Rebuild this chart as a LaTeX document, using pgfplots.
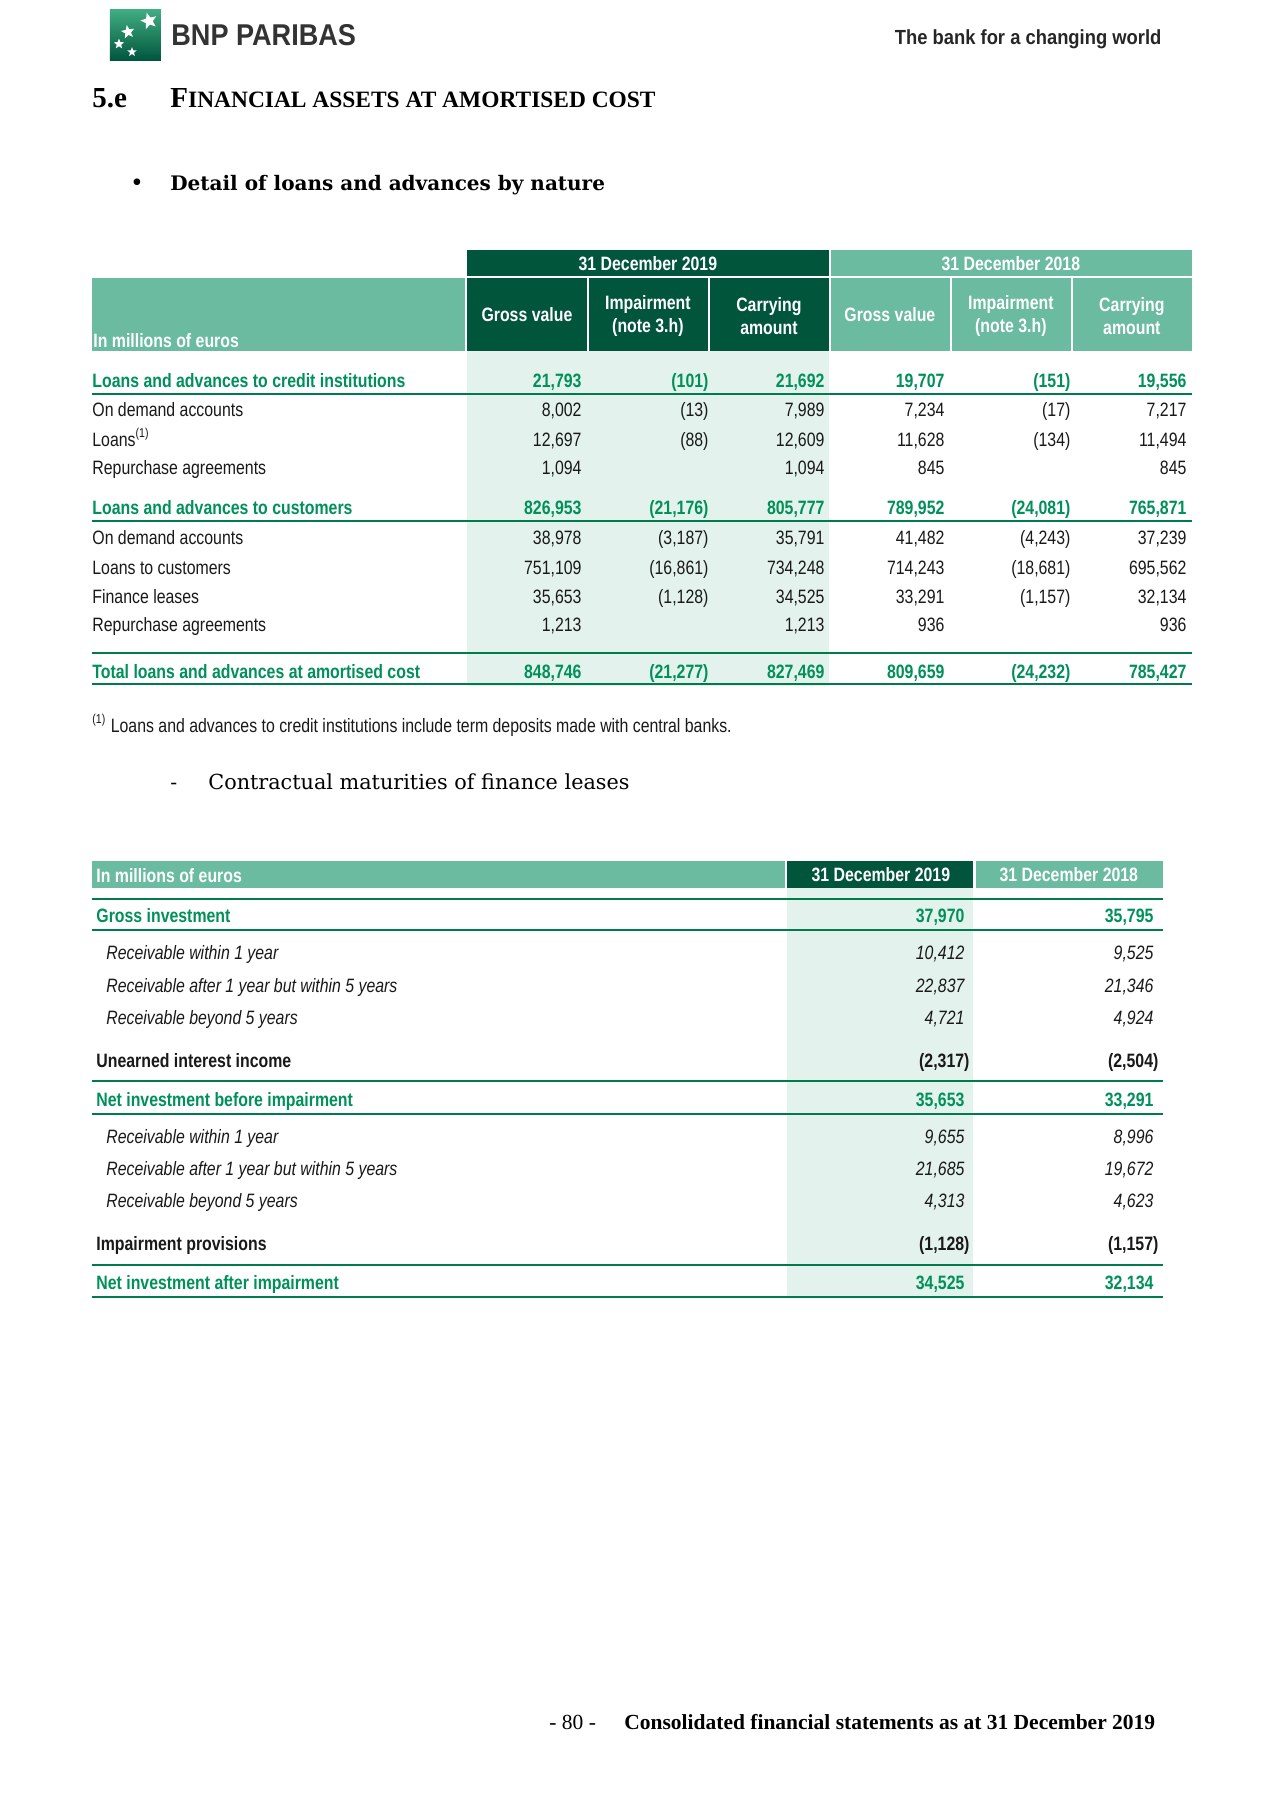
\documentclass[border=0pt]{standalone}
\usepackage{pgfplots}
\pgfplotsset{compat=1.18}
\usepackage{fontspec}
\usetikzlibrary{shapes.geometric}
\setmainfont{Liberation Serif}
\newfontfamily\narrow[FakeStretch=0.82]{Liberation Sans}
\newfontfamily\logofont[FakeStretch=0.9]{Liberation Sans}
\newfontfamily\dserif{DejaVu Serif}

\definecolor{bnpdark}{RGB}{0,85,58}
\definecolor{bnplight}{RGB}{106,187,160}
\definecolor{bnppale}{RGB}{228,242,237}
\definecolor{bnpgreen}{RGB}{0,145,90}
\definecolor{ink}{RGB}{25,25,25}

\newcommand\tf{\narrow\fontsize{9pt}{10.8pt}\selectfont}

\tikzset{
  lbl/.style={anchor=base west, inner sep=0pt, text=ink, font=\tf},
  glbl/.style={anchor=base west, inner sep=0pt, text=bnpgreen, font=\tf\bfseries},
  hdr/.style={inner sep=0pt, text=white, font=\tf\bfseries, align=center},
  rule/.style={bnpgreen!85!black, line width=1pt},
  logostar/.style={star, star points=5, star point ratio=2.3, fill=white, inner sep=0pt},
}

\begin{document}
\begin{tikzpicture}
\begin{axis}[
  width=595.28pt, height=841.89pt, scale only axis,
  xmin=0, xmax=1280, ymin=0, ymax=1810, y dir=reverse,
  hide axis, clip=false,
  numtab/.style={only marks, mark=*, mark size=0pt,
    mark options={draw=none, fill=none},
    point meta=explicit symbolic, nodes near coords,
    nodes near coords align={anchor=base east},
    every node near coord/.append style={inner sep=0pt, anchor=base east}},
]
% page
\fill[white] (0,0) rectangle (1280,1810);

% ---- header ----
\shade[top color=bnpgreen!75!white, bottom color=bnpdark] (110,10) rectangle (161,61);
\node[logostar, minimum size=8pt, rotate=15] at (149,21) {};
\node[logostar, minimum size=6.5pt, rotate=10] at (128,32) {};
\node[logostar, minimum size=5pt] at (119,44) {};
\node[logostar, minimum size=4.5pt] at (132,52) {};
\node[anchor=west, inner sep=0pt, text=black!80] at (171,35) {\logofont\fontsize{14pt}{16pt}\selectfont\bfseries BNP PARIBAS};
\node[anchor=east, inner sep=0pt, text=black!85] at (1162,39) {\logofont\fontsize{9.5pt}{11pt}\selectfont\bfseries The bank for a changing world};

\node[anchor=base west, inner sep=0pt] at (92,108) {\fontsize{13.5pt}{15pt}\selectfont\bfseries 5.e};
\node[anchor=base west, inner sep=0pt] at (170,108) {\bfseries\fontsize{13.5pt}{15pt}\selectfont F\fontsize{10.9pt}{15pt}\selectfont INANCIAL ASSETS AT AMORTISED COST};

\node[inner sep=0pt] at (137,185) {\fontsize{13pt}{14pt}\selectfont\textbullet};
\node[anchor=base west, inner sep=0pt] at (170,191) {\dserif\fontsize{9.3pt}{11pt}\selectfont\bfseries Detail of loans and advances by nature};

% ---- table 1 ----
\fill[bnpdark] (467,250) rectangle (829,276);
\fill[bnplight] (831,250) rectangle (1192,276);
\fill[bnplight] (92,278) rectangle (465,351);
\fill[bnpdark] (467,278) rectangle (587,351);
\fill[bnpdark] (589,278) rectangle (708,351);
\fill[bnpdark] (710,278) rectangle (829,351);
\fill[bnplight] (831,278) rectangle (950,351);
\fill[bnplight] (952,278) rectangle (1071,351);
\fill[bnplight] (1073,278) rectangle (1192,351);
\fill[bnppale] (467,351) rectangle (829,686);

\node[hdr] at (648,264) {31 December 2019};
\node[hdr] at (1011,264) {31 December 2018};
\node[hdr] at (527,315) {Gross value};
\node[hdr] at (648,316) {Impairment\\(note 3.h)};
\node[hdr] at (769,316) {Carrying\\amount};
\node[hdr] at (890,315) {Gross value};
\node[hdr] at (1011,316) {Impairment\\(note 3.h)};
\node[hdr] at (1132,316) {Carrying\\amount};
\node[hdr, anchor=base west] at (93,348) {In millions of euros};

\draw[rule] (92,394) -- (1192,394);
\draw[rule] (92,521) -- (1192,521);
\draw[rule] (92,653) -- (1192,653);
\draw[rule] (92,684) -- (1192,684);

\node[glbl] at (92,388) {Loans and advances to credit institutions};
\node[lbl] at (92,417) {On demand accounts};
\node[lbl] at (92,446) {Loans\textsuperscript{(1)}};
\node[lbl] at (92,474) {Repurchase agreements};
\node[glbl] at (92,515) {Loans and advances to customers};
\node[lbl] at (92,544) {On demand accounts};
\node[lbl] at (92,574) {Loans to customers};
\node[lbl] at (92,603) {Finance leases};
\node[lbl] at (92,631) {Repurchase agreements};
\node[glbl] at (92,678) {Total loans and advances at amortised cost};

\addplot[numtab, every node near coord/.append style={text=bnpgreen, font=\tf\bfseries}] table[meta=t] {
x y t
582 388 21,793
709 388 (101)
825 388 21,692
945 388 19,707
1071 388 (151)
1187 388 19,556
582 515 826,953
709 515 (21,176)
825 515 805,777
945 515 789,952
1071 515 (24,081)
1187 515 765,871
582 678 848,746
709 678 (21,277)
825 678 827,469
945 678 809,659
1071 678 (24,232)
1187 678 785,427
};
\addplot[numtab, every node near coord/.append style={text=ink, font=\tf}] table[meta=t] {
x y t
582 417 8,002
709 417 (13)
825 417 7,989
945 417 7,234
1071 417 (17)
1187 417 7,217
582 446 12,697
709 446 (88)
825 446 12,609
945 446 11,628
1071 446 (134)
1187 446 11,494
582 474 1,094
825 474 1,094
945 474 845
1187 474 845
582 544 38,978
709 544 (3,187)
825 544 35,791
945 544 41,482
1071 544 (4,243)
1187 544 37,239
582 574 751,109
709 574 (16,861)
825 574 734,248
945 574 714,243
1071 574 (18,681)
1187 574 695,562
582 603 35,653
709 603 (1,128)
825 603 34,525
945 603 33,291
1071 603 (1,157)
1187 603 32,134
582 631 1,213
825 631 1,213
945 631 936
1187 631 936
};

\node[anchor=base west, inner sep=0pt, text=ink] at (92,732) {\narrow\fontsize{9pt}{10pt}\selectfont\textsuperscript{(1)} Loans and advances to credit institutions include term deposits made with central banks.};

\node[anchor=base west, inner sep=0pt] at (170,789) {\dserif\fontsize{9.5pt}{11pt}\selectfont -};
\node[anchor=base west, inner sep=0pt] at (208,789) {\dserif\fontsize{9.65pt}{12pt}\selectfont Contractual maturities of finance leases};

% ---- table 2 ----
\fill[bnplight] (92,861) rectangle (785,888);
\fill[bnpdark] (787,861) rectangle (973,888);
\fill[bnplight] (976,861) rectangle (1163,888);
\fill[bnppale] (787,888) rectangle (973,1297);
\node[hdr] at (881,875) {31 December 2019};
\node[hdr] at (1069,875) {31 December 2018};
\node[hdr, anchor=base west] at (96,882) {In millions of euros};

\draw[rule, line width=1.1pt] (92,899) -- (1163,899);
\draw[rule, line width=1.1pt] (92,930) -- (1163,930);
\draw[rule, line width=1.1pt] (92,1081) -- (1163,1081);
\draw[rule, line width=1.1pt] (92,1114) -- (1163,1114);
\draw[rule, line width=1.1pt] (92,1265) -- (1163,1265);
\draw[rule, line width=1.1pt] (92,1297) -- (1163,1297);

\node[glbl] at (96,922) {Gross investment};
\node[lbl, font=\tf\itshape] at (106,959) {Receivable within 1 year};
\node[lbl, font=\tf\itshape] at (106,992) {Receivable after 1 year but within 5 years};
\node[lbl, font=\tf\itshape] at (106,1024) {Receivable beyond 5 years};
\node[lbl, font=\tf\bfseries] at (96,1067) {Unearned interest income};
\node[glbl] at (96,1106) {Net investment before impairment};
\node[lbl, font=\tf\itshape] at (106,1143) {Receivable within 1 year};
\node[lbl, font=\tf\itshape] at (106,1175) {Receivable after 1 year but within 5 years};
\node[lbl, font=\tf\itshape] at (106,1207) {Receivable beyond 5 years};
\node[lbl, font=\tf\bfseries] at (96,1250) {Impairment provisions};
\node[glbl] at (96,1289) {Net investment after impairment};

\addplot[numtab, every node near coord/.append style={text=bnpgreen, font=\tf\bfseries}] table[meta=t] {
x y t
965 922 37,970
1154 922 35,795
965 1106 35,653
1154 1106 33,291
965 1289 34,525
1154 1289 32,134
};
\addplot[numtab, every node near coord/.append style={text=ink, font=\tf\itshape}] table[meta=t] {
x y t
965 959 10,412
1154 959 9,525
965 992 22,837
1154 992 21,346
965 1024 4,721
1154 1024 4,924
965 1143 9,655
1154 1143 8,996
965 1175 21,685
1154 1175 19,672
965 1207 4,313
1154 1207 4,623
};
\addplot[numtab, every node near coord/.append style={text=ink, font=\tf\bfseries}] table[meta=t] {
x y t
970 1067 (2,317)
1159 1067 (2,504)
970 1250 (1,128)
1159 1250 (1,157)
};

% ---- footer ----
\node[anchor=base west, inner sep=0pt] at (549,1729) {\fontsize{10pt}{12pt}\selectfont - 80 -};
\node[anchor=base west, inner sep=0pt] at (624,1729) {\fontsize{10pt}{12pt}\selectfont\bfseries Consolidated financial statements as at 31 December 2019};
\end{axis}
\end{tikzpicture}
\end{document}
